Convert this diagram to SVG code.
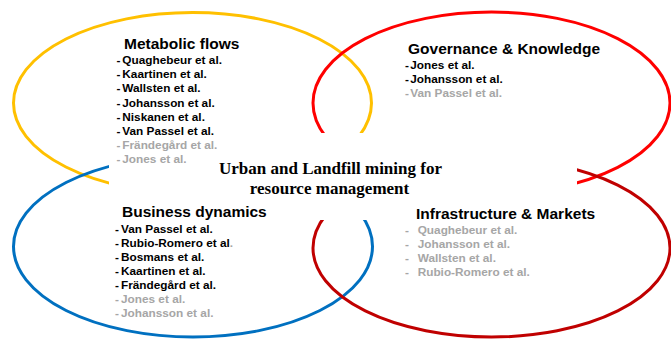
<svg xmlns="http://www.w3.org/2000/svg" width="671" height="339" viewBox="0 0 671 339">
  <style>
    .ring { fill: none; stroke-width: 3; }
    .head { font-family: "Liberation Sans", Arial, sans-serif; font-weight: bold; font-size: 15.5px; fill: #000; }
    .ref { font-family: "Liberation Sans", Arial, sans-serif; font-weight: bold; font-size: 11.8px; fill: #000; }
    .ref.dim, .dim { fill: #A6A6A6; }
    .core { font-family: "Liberation Serif", "Times New Roman", serif; font-weight: bold; font-size: 17px; fill: #000; text-anchor: middle; }
  </style>

  <rect width="671" height="339" fill="#fff"/>

  <!-- four overlapping theme rings -->
  <g id="rings">
    <ellipse id="ring-metabolic" class="ring" cx="192.5" cy="103" rx="179" ry="90.5" stroke="#FFC000"/>
    <ellipse id="ring-governance" class="ring" cx="491.5" cy="103" rx="178.5" ry="91" stroke="#FF0000"/>
    <ellipse id="ring-business" class="ring" cx="193" cy="246.5" rx="179.5" ry="90.5" stroke="#0070C0"/>
    <ellipse id="ring-infrastructure" class="ring" cx="491.5" cy="248" rx="178.5" ry="89" stroke="#C00000"/>
  </g>

  <!-- central topic on a white band -->
  <g id="center">
    <rect x="109" y="133" width="468" height="87" fill="#fff"/>
    <text class="core" x="330.5" y="174">Urban and Landfill mining for</text>
    <text class="core" x="329.5" y="193.5">resource management</text>
  </g>

  <g id="metabolic-flows">
    <text class="head" x="124" y="49">Metabolic flows</text>
    <text class="ref" y="64"><tspan x="116.5">-</tspan><tspan x="122.3">Quaghebeur et al.</tspan></text>
    <text class="ref" y="78"><tspan x="116.5">-</tspan><tspan x="122.3">Kaartinen et al.</tspan></text>
    <text class="ref" y="92"><tspan x="116.5">-</tspan><tspan x="122.3">Wallsten et al.</tspan></text>
    <text class="ref" y="106.5"><tspan x="116.5">-</tspan><tspan x="122.3">Johansson et al.</tspan></text>
    <text class="ref" y="120.5"><tspan x="116.5">-</tspan><tspan x="122.3">Niskanen et al.</tspan></text>
    <text class="ref" y="134.5"><tspan x="116.5">-</tspan><tspan x="122.3">Van Passel et al.</tspan></text>
    <text class="ref dim" y="148.5"><tspan x="116.5">-</tspan><tspan x="122.3">Frändegård et al.</tspan></text>
    <text class="ref dim" y="162.5"><tspan x="116.5">-</tspan><tspan x="122.3">Jones et al.</tspan></text>
  </g>

  <g id="governance-knowledge">
    <text class="head" x="408" y="53.5">Governance &amp; Knowledge</text>
    <text class="ref" y="69.3"><tspan x="405">-</tspan><tspan x="410.3">Jones et al.</tspan></text>
    <text class="ref" y="83.3"><tspan x="405">-</tspan><tspan x="410.3">Johansson et al.</tspan></text>
    <text class="ref dim" y="97.3"><tspan x="405">-</tspan><tspan x="410.3">Van Passel et al.</tspan></text>
  </g>

  <g id="business-dynamics">
    <text class="head" x="122" y="216.5">Business dynamics</text>
    <text class="ref" y="232.5"><tspan x="115">-</tspan><tspan x="121">Van Passel et al.</tspan></text>
    <text class="ref" y="246.5"><tspan x="115">-</tspan><tspan x="121">Rubio-Romero et al</tspan><tspan class="dim">.</tspan></text>
    <text class="ref" y="260.5"><tspan x="115">-</tspan><tspan x="121">Bosmans et al.</tspan></text>
    <text class="ref" y="274.5"><tspan x="115">-</tspan><tspan x="121">Kaartinen et al.</tspan></text>
    <text class="ref" y="288.5"><tspan x="115">-</tspan><tspan x="121">Frändegård et al.</tspan></text>
    <text class="ref dim" y="303"><tspan x="115">-</tspan><tspan x="121">Jones et al.</tspan></text>
    <text class="ref dim" y="317"><tspan x="115">-</tspan><tspan x="121">Johansson et al.</tspan></text>
  </g>

  <g id="infrastructure-markets">
    <text class="head" x="416" y="219">Infrastructure &amp; Markets</text>
    <text class="ref dim" y="234"><tspan x="405">-</tspan><tspan x="417.7">Quaghebeur et al.</tspan></text>
    <text class="ref dim" y="248"><tspan x="405">-</tspan><tspan x="417.7">Johansson et al.</tspan></text>
    <text class="ref dim" y="262"><tspan x="405">-</tspan><tspan x="417.7">Wallsten et al.</tspan></text>
    <text class="ref dim" y="276"><tspan x="405">-</tspan><tspan x="417.7">Rubio-Romero et al.</tspan></text>
  </g>
</svg>
